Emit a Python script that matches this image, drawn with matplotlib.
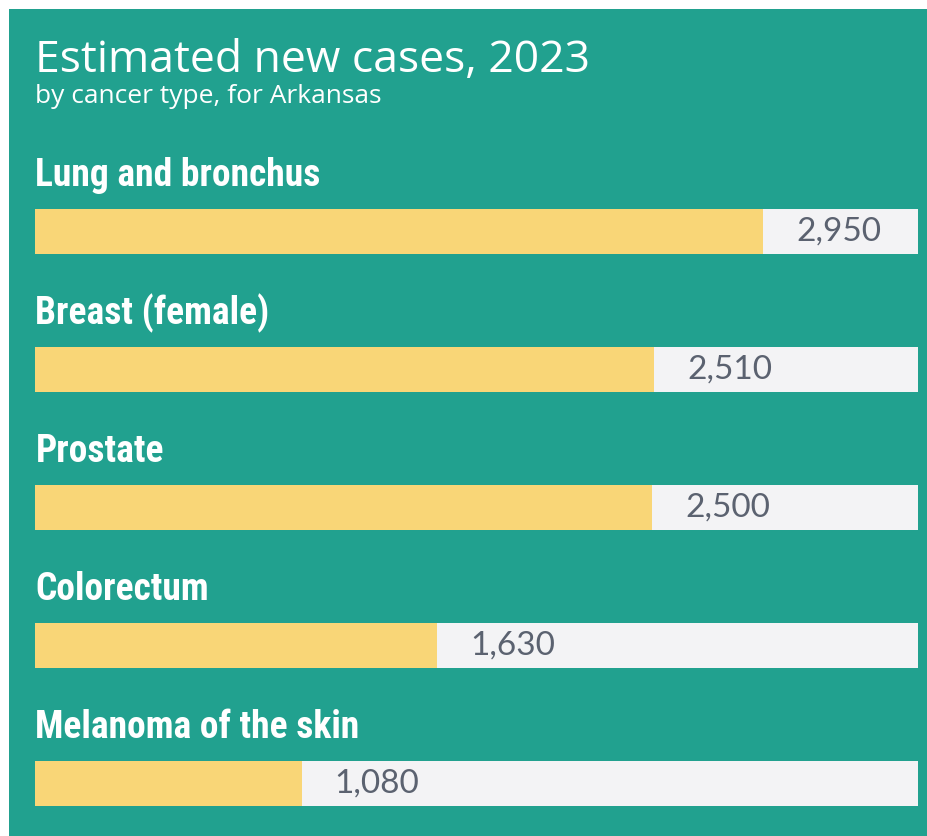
import matplotlib.pyplot as plt
from matplotlib.patches import Rectangle

categories = ['Lung and bronchus', 'Breast (female)', 'Prostate', 'Colorectum', 'Melanoma of the skin']
cases = [2950, 2510, 2500, 1630, 1080]
axis_max = 3578

TEAL = '#21a18f'
YELLOW = '#f9d677'
TRACK = '#f3f3f5'
GREY_TEXT = '#5b6270'

W, H = 928, 837
fig = plt.figure(figsize=(W / 100, H / 100), dpi=100, facecolor='white')

# teal panel behind everything
fig.patches.append(Rectangle((9 / W, 0), 1 - 9 / W, 1 - 10 / H, transform=fig.transFigure,
                             facecolor=TEAL, edgecolor='none', zorder=-5))

fig.text(35 / W, 1 - 72 / H, 'Estimated new cases, 2023', color='white',
         fontsize=32, family='Open Sans', va='baseline', ha='left')
fig.text(35 / W, 1 - 103 / H, 'by cancer type, for Arkansas', color='white',
         fontsize=19, family='Open Sans', va='baseline', ha='left')

# 1 data unit on y = 138 px, first bar centred at 232 px from top
ax = fig.add_axes([35 / W, (H - 832.3) / H, 883 / W, 683.1 / H], zorder=2)
ax.set_facecolor('none')
ys = list(range(len(categories)))
ax.barh(ys, [axis_max] * len(ys), height=45 / 138, color=TRACK, edgecolor='none')
ax.barh(ys, cases, height=45 / 138, color=YELLOW, edgecolor='none')

for y, cat, val in zip(ys, categories, cases):
    ax.text(2, y - 46 / 138, cat, color='white', fontsize=27, fontweight='bold',
            family=['Roboto Condensed', 'Roboto'], va='baseline', ha='left')
    ax.annotate(f'{val:,}', xy=(val, y), xytext=(33, 0), textcoords='offset pixels',
                color=GREY_TEXT, fontsize=24, family='Lato', va='center', ha='left')

ax.set_xlim(0, axis_max)
ax.set_ylim(4.35, -0.6)
ax.axis('off')

fig.savefig('out.png', dpi=100, facecolor='white')
